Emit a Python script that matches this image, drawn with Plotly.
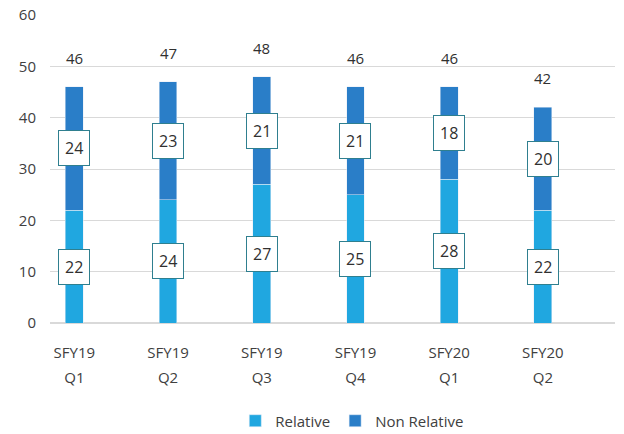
import plotly.graph_objects as go

categories = ["SFY19<br>Q1", "SFY19<br>Q2", "SFY19<br>Q3", "SFY19<br>Q4", "SFY20<br>Q1", "SFY20<br>Q2"]
relative = [22, 24, 27, 25, 28, 22]
non_relative = [24, 23, 21, 21, 18, 20]
totals = [46, 47, 48, 46, 46, 42]

c_rel = "#20a7e0"
c_non = "#2a7ec8"
box_border = "#2f7f8f"
txt = "#303030"

ticktext = ["<br>".join('<span style="font-size:15px">%s</span>' % p for p in c.split("<br>")) for c in categories]

fig = go.Figure()
xs = list(range(len(categories)))
fig.add_trace(go.Bar(x=xs, y=relative, name="Relative", marker_color=c_rel, width=0.19))
fig.add_trace(go.Bar(x=xs, y=non_relative, name="Non Relative", marker_color=c_non, width=0.19))

annotations = []
for i in xs:
    annotations.append(dict(x=i, y=relative[i] / 2, text=str(relative[i]), showarrow=False,
                            bgcolor="white", bordercolor=box_border, borderwidth=1, borderpad=6,
                            font=dict(size=16, color=txt, family="Open Sans")))
    annotations.append(dict(x=i, y=relative[i] + non_relative[i] / 2, text=str(non_relative[i]), showarrow=False,
                            bgcolor="white", bordercolor=box_border, borderwidth=1, borderpad=6,
                            font=dict(size=16, color=txt, family="Open Sans")))
    annotations.append(dict(x=i, y=totals[i], text=str(totals[i]), showarrow=False, yshift=29,
                            font=dict(size=15, color=txt, family="Open Sans")))

fig.update_layout(
    barmode="stack",
    width=624, height=434,
    margin=dict(l=50, r=9, t=15, b=111),
    plot_bgcolor="white", paper_bgcolor="white",
    font=dict(family="Open Sans", size=14, color="#404040"),
    annotations=annotations,
    legend=dict(orientation="h", x=0.535, xanchor="center", yref="container", y=0.03, yanchor="middle",
                traceorder="normal", itemwidth=30,
                font=dict(size=15, color="#404040")),
    xaxis=dict(tickmode="array", tickvals=xs, ticktext=ticktext, range=[-0.26, 5.77],
               showgrid=False, zeroline=False, showline=False, ticks="", automargin=False,
               ticklabelstandoff=15,
               tickfont=dict(size=19, color="#404040")),
    yaxis=dict(range=[0, 60], dtick=10, showgrid=True, gridcolor="#d9d9d9", gridwidth=1,
               zeroline=True, zerolinecolor="#d9d9d9", ticks="", ticklabelstandoff=13, automargin=False,
               tickfont=dict(size=15, color="#404040")),
)

# remove the browser's default 8px body margin so the figure fills the window exactly
fig.write_html("out.html", config={"displayModeBar": False},
               post_script="document.body.style.margin='0';document.body.style.overflow='hidden';")
